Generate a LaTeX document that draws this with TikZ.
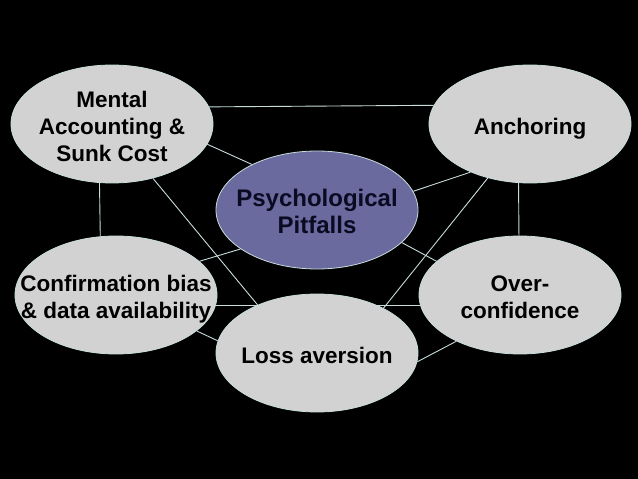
\documentclass[tikz,border=0pt]{standalone}
\usepackage{fontspec}
\setmainfont{Liberation Sans}
\usetikzlibrary{shapes.geometric}
\pgfdeclarelayer{bg}
\pgfsetlayers{bg,main}
\definecolor{bubble}{HTML}{D2D2D2}
\definecolor{core}{HTML}{6A6A9E}
\definecolor{coretext}{HTML}{0A0A22}
\definecolor{link}{HTML}{C8DCDC}
\newcommand{\bubbletext}[1]{\makebox[0pt]{\raisebox{-5pt}[\height][\depth]{\begin{tabular}{@{}c@{}}#1\end{tabular}}}}
\tikzset{
  bubblebox/.style={ellipse, draw=link, line width=0.8pt, fill=bubble,
    minimum width=202pt, minimum height=118pt, inner sep=0pt,
    text=black, font=\fontsize{22.5}{27}\selectfont\bfseries},
  corebox/.style={bubblebox, fill=core, text=coretext,
    font=\fontsize{24}{27}\selectfont\bfseries},
  linkline/.style={draw=link, line width=0.9pt}
}
\begin{document}
\begin{tikzpicture}[x=1pt,y=-1pt]
\useasboundingbox (0,0) rectangle (638,479);
\begin{pgfonlayer}{bg}
  \fill[black] (0,0) rectangle (638,479);
\end{pgfonlayer}
\node[bubblebox] (mental) at (112,124) {\bubbletext{Mental\\Accounting \&\\Sunk Cost}};
\node[bubblebox] (anchor) at (530,124) {\bubbletext{Anchoring}};
\node[corebox] (psych) at (317,210) {\bubbletext{Psychological\\Pitfalls}};
\node[bubblebox] (confirm) at (116,295) {\bubbletext{Confirmation bias\\\& data availability}};
\node[bubblebox] (over) at (520,295) {\bubbletext{Over-\\confidence}};
\node[bubblebox] (loss) at (317,353) {\bubbletext{Loss aversion}};
\begin{pgfonlayer}{bg}
  \draw[linkline] (mental.10.7) -- (anchor.169.3);
  \draw[linkline] (mental.-12) -- (psych.145.5);
  \draw[linkline] (mental.258.4) -- (confirm.105.4);
  \draw[linkline] (mental.-53.5) -- (loss.141.3);
  \draw[linkline] (anchor.219.2) -- (psych.11);
  \draw[linkline] (anchor.232.1) -- (loss.34.1);
  \draw[linkline] (anchor.259.4) -- (over.91);
  \draw[linkline] (confirm.22.6) -- (psych.207.2);
  \draw[linkline] (psych.-21.6) -- (over.158.3);
  \draw[linkline] (confirm.-6.3) -- (over.186.3);
  \draw[linkline] (loss.-5.7) -- (over.216.4);
  \draw[linkline] (confirm.-24.5) -- (loss.173);
\end{pgfonlayer}
\end{tikzpicture}
\end{document}
